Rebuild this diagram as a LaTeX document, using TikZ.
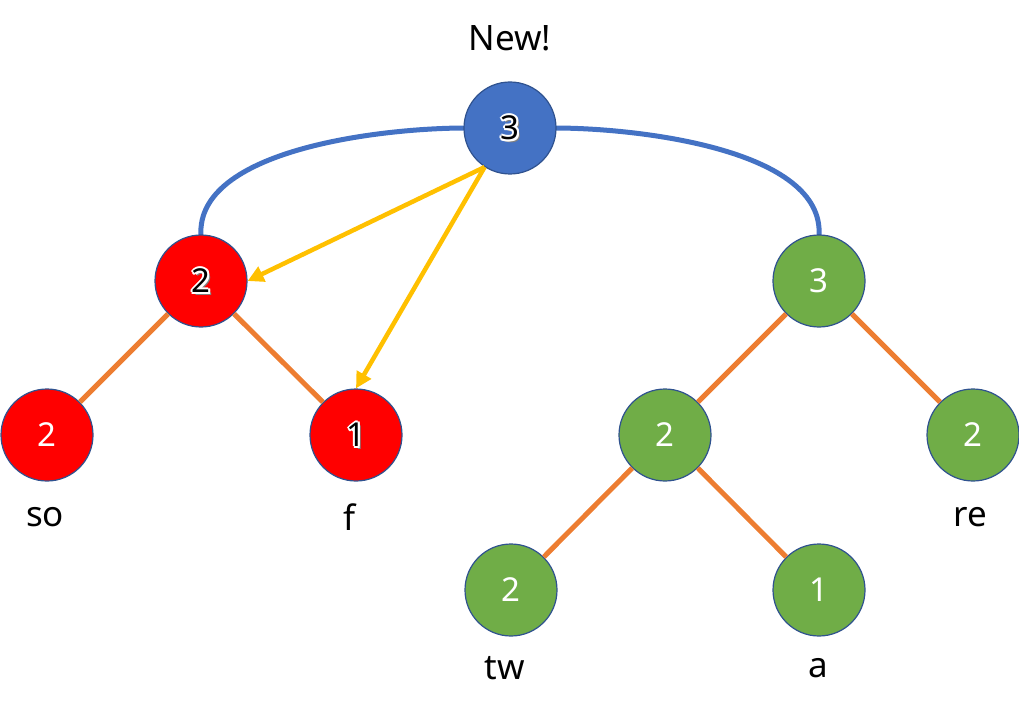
\documentclass[tikz,border=0pt]{standalone}
\usepackage{fontspec}
\setmainfont{Noto Sans}
\usetikzlibrary{arrows.meta}
\definecolor{nblue}{HTML}{4472C4}
\definecolor{nborder}{HTML}{2F528F}
\definecolor{ngreen}{HTML}{70AD47}
\definecolor{norange}{HTML}{ED7D31}
\definecolor{nyellow}{HTML}{FFC000}
\tikzset{
  vert/.style={circle, draw=nborder, line width=1.2pt, minimum size=92pt, inner sep=0pt, text=white, font=\fontsize{33}{38}\selectfont},
  redv/.style={vert, fill=red},
  greenv/.style={vert, fill=ngreen},
  bluev/.style={vert, fill=nblue, text=black},
  redo/.style={redv, text=black},
  edge/.style={draw=norange, line width=5pt},
  arc/.style={draw=nblue, line width=5pt},
  ptr/.style={draw=nyellow, line width=4.5pt, -{Triangle[length=16pt,width=16pt]}},
  lbl/.style={font=\fontsize{35}{40}\selectfont, text=black, inner sep=0pt},
}
\newcommand{\shifted}[4]{\rlap{\hspace*{#1}\raisebox{#2}{\textcolor{#3}{#4}}}}
\newcommand{\outl}[1]{%
  \shifted{2.5pt}{-2.5pt}{gray}{#1}%
  \shifted{2pt}{0pt}{white}{#1}%
  \shifted{-2pt}{0pt}{white}{#1}%
  \shifted{0pt}{2pt}{white}{#1}%
  \shifted{0pt}{-2pt}{white}{#1}%
  \shifted{1.5pt}{1.5pt}{white}{#1}%
  \shifted{-1.5pt}{1.5pt}{white}{#1}%
  \shifted{1.5pt}{-1.5pt}{white}{#1}%
  \shifted{-1.5pt}{-1.5pt}{white}{#1}%
  \textcolor{black}{#1}}
\begin{document}
\begin{tikzpicture}[x=1pt,y=-1pt]
\useasboundingbox (0,0) rectangle (1019,711);
% arcs
\coordinate (arcL) at (201,236);
\coordinate (arcR) at (819,236);
\coordinate (topL) at (466,128);
\coordinate (topR) at (554,128);
\draw[arc] (arcL) .. controls (195,150) and (380,128) .. (topL);
\draw[arc] (topR) .. controls (640,128) and (825,150) .. (arcR);
% vertices
\node[redo] (r2) at (201,281) {\outl{2}};
\node[greenv] (g3) at (819,281) {3};
\node[redv] (so) at (47,435) {2};
\node[redo] (f) at (356,435) {\outl{1}};
\node[greenv] (g2) at (665,435) {2};
\node[greenv] (re) at (973,435) {2};
\node[greenv] (tw) at (511,590) {2};
\node[greenv] (a) at (819,590) {1};
% orange edges
\draw[edge] (r2) -- (so);
\draw[edge] (r2) -- (f);
\draw[edge] (g3) -- (g2);
\draw[edge] (g3) -- (re);
\draw[edge] (g2) -- (tw);
\draw[edge] (g2) -- (a);
\node[bluev] (top) at (510,128) {\outl{3}};
% pointers
\draw[ptr] (top.237) -- (r2.east);
\draw[ptr] (top.237) -- (f.north);
% labels
\node[lbl] (new) at (510,38) {New!};
\node[lbl] (lso) at (45,517) {so};
\node[lbl] (lf) at (350,517) {f};
\node[lbl] (lre) at (970,517) {re};
\node[lbl] (ltw) at (505,668) {tw};
\node[lbl] (la) at (818,668) {a};
\end{tikzpicture}
\end{document}
